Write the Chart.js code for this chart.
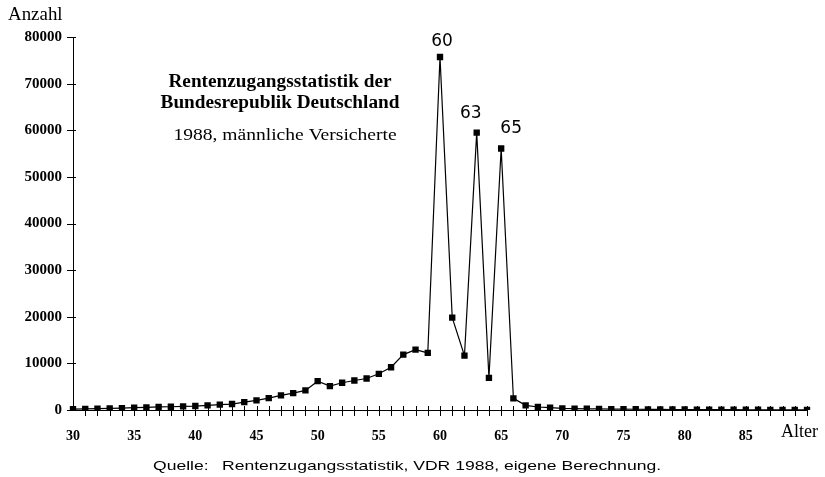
<!DOCTYPE html>
<html lang="de">
<head>
  <meta charset="UTF-8">
  <title>Rentenzugangsstatistik 1988</title>
  <script src="https://cdn.jsdelivr.net/npm/chart.js"></script>
  <style>
    html, body { margin: 0; padding: 0; background: #fff; }
    #wrap { width: 825px; height: 477px; }
  </style>
</head>
<body>
  <div id="wrap"><canvas id="chartRente" width="825" height="477"></canvas></div>

  <script>
    // Alter (Jahre)
    const ages = [30, 31, 32, 33, 34, 35, 36, 37, 38, 39, 40, 41, 42, 43, 44, 45, 46, 47, 48, 49,
                  50, 51, 52, 53, 54, 55, 56, 57, 58, 59, 60, 61, 62, 63, 64, 65, 66, 67, 68, 69,
                  70, 71, 72, 73, 74, 75, 76, 77, 78, 79, 80, 81, 82, 83, 84, 85, 86, 87, 88, 89, 90];
    // Rentenzugänge (Anzahl), männliche Versicherte 1988
    const counts = [200, 250, 300, 350, 400, 500, 550, 650, 700, 790, 850, 1000, 1150, 1280, 1700, 2070, 2560, 3130, 3620, 4200,
                    6180, 5120, 5840, 6330, 6760, 7760, 9170, 11880, 12940, 12240, 75700, 19800, 11660, 59490, 6900, 56080, 2500, 1000, 640, 500,
                    350, 300, 260, 230, 200, 180, 160, 140, 120, 110, 100, 90, 80, 70, 60, 50, 45, 40, 35, 30, 25];
    const yTicks = [0, 10000, 20000, 30000, 40000, 50000, 60000, 70000, 80000];
    const peakLabels = [
      { age: 60, text: "60", dx: 2, dy: -11 },
      { age: 63, text: "63", dx: -6, dy: -15 },
      { age: 65, text: "65", dx: 10, dy: -16 }
    ];

    // Text mit horizontaler Streckung (Scan ist etwas breit)
    function wideText(ctx, txt, x, y, sx, align) {
      ctx.save();
      ctx.translate(x, y);
      ctx.scale(sx, 1);
      ctx.textAlign = align || "left";
      ctx.fillText(txt, 0, 0);
      ctx.restore();
    }

    const overlay = {
      id: "overlay",
      afterDraw(chart) {
        const ctx = chart.ctx;
        const x = chart.scales.x, y = chart.scales.y;
        const y0 = y.getPixelForValue(0);
        ctx.save();
        ctx.strokeStyle = "#000";
        ctx.lineWidth = 1;
        // Striche auf der x-Achse (kreuzend)
        ages.forEach((a, i) => {
          if (i === 0) return;
          const px = Math.round(x.getPixelForValue(i)) + 0.5;
          ctx.beginPath();
          ctx.moveTo(px, y0 - 4);
          ctx.lineTo(px, y0 + 6);
          ctx.stroke();
        });
        // Striche auf der y-Achse
        yTicks.forEach(v => {
          const py = Math.round(y.getPixelForValue(v)) + 0.5;
          ctx.beginPath();
          ctx.moveTo(x.left - 6, py);
          ctx.lineTo(x.left + 3, py);
          ctx.stroke();
        });

        ctx.fillStyle = "#000";
        ctx.textBaseline = "alphabetic";
        // Gipfel-Beschriftungen
        ctx.font = "17px 'DejaVu Sans', sans-serif";
        peakLabels.forEach(p => {
          const i = ages.indexOf(p.age);
          const px = x.getPixelForValue(i);
          const py = y.getPixelForValue(counts[i]);
          wideText(ctx, p.text, px + p.dx, py + p.dy, 1, "center");
        });

        // Titel im Diagramm
        ctx.font = "bold 18px 'Liberation Serif', serif";
        wideText(ctx, "Rentenzugangsstatistik der", 280, 87, 1.07, "center");
        wideText(ctx, "Bundesrepublik Deutschland", 280, 108, 1.07, "center");
        ctx.font = "17px 'Liberation Serif', serif";
        wideText(ctx, "1988, männliche Versicherte", 285, 140, 1.15, "center");

        // Achsentitel
        ctx.font = "18px 'Liberation Serif', serif";
        wideText(ctx, "Anzahl", 8, 20, 1.05);
        wideText(ctx, "Alter", 781, 437, 1.0);

        // Quelle
        ctx.font = "13.5px 'Liberation Sans', sans-serif";
        wideText(ctx, "Quelle:", 153, 470, 1.3);
        wideText(ctx, "Rentenzugangsstatistik, VDR 1988, eigene Berechnung.", 222, 470, 1.3);
        ctx.restore();
      }
    };

    const ctx = document.getElementById("chartRente").getContext("2d");
    new Chart(ctx, {
      type: "line",
      data: {
        labels: ages,
        datasets: [{
          data: counts,
          borderColor: "#000",
          backgroundColor: "#000",
          borderWidth: 1.2,
          pointStyle: "rect",
          pointRadius: 4.5,
          pointBorderWidth: 0,
          tension: 0
        }]
      },
      options: {
        responsive: false,
        animation: false,
        layout: { padding: { top: 37, right: 17, left: 0, bottom: 0 } },
        plugins: {
          legend: { display: false },
          tooltip: { enabled: false }
        },
        scales: {
          x: {
            type: "category",
            offset: false,
            grid: { display: false, drawTicks: false },
            border: { display: true, color: "#000", width: 1 },
            afterFit: s => { s.height = 67; },
            ticks: {
              autoSkip: false,
              maxRotation: 0,
              padding: 18,
              color: "#000",
              font: { family: "'Liberation Serif', serif", size: 14, weight: "bold" },
              callback: (v, i) => (ages[i] % 5 === 0 && ages[i] < 90) ? String(ages[i]) : ""
            }
          },
          y: {
            min: 0,
            max: 80000,
            grid: { display: false, drawTicks: false },
            border: { display: true, color: "#000", width: 1 },
            afterFit: s => { s.width = 73; },
            afterBuildTicks: s => { s.ticks = yTicks.map(v => ({ value: v })); },
            ticks: {
              padding: 11,
              color: "#000",
              font: { family: "'Liberation Serif', serif", size: 15, weight: "bold" },
              callback: v => String(v)
            }
          }
        }
      },
      plugins: [overlay]
    });
  </script>
</body>
</html>
